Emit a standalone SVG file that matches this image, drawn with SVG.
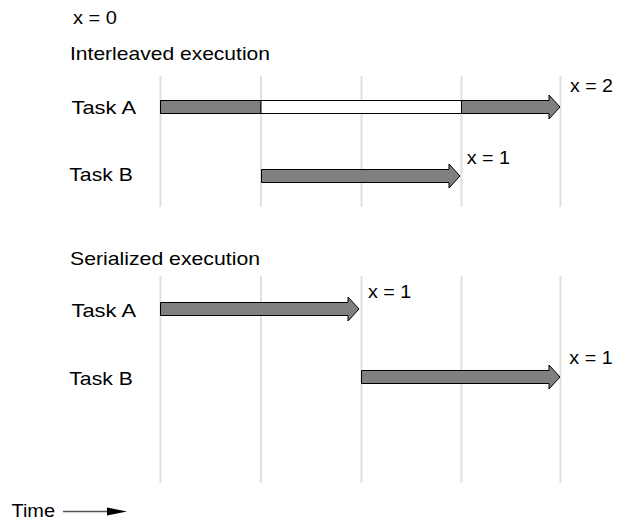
<svg xmlns="http://www.w3.org/2000/svg" width="618" height="520" viewBox="0 0 618 520">
<style>
text{font-family:"Liberation Sans",Arial,sans-serif;font-size:18.5px;fill:#000}
.grid{stroke:#e0e0e0;stroke-width:2}
.bar{fill:#808080;stroke:#000;stroke-width:1}
.idle{fill:#fff;stroke:#000;stroke-width:1}
</style>
<rect width="618" height="520" fill="#fff"/>
<g id="grid">
<line class="grid" x1="160.5" y1="76" x2="160.5" y2="207"/>
<line class="grid" x1="261" y1="76" x2="261" y2="207"/>
<line class="grid" x1="361.5" y1="76" x2="361.5" y2="207"/>
<line class="grid" x1="461.5" y1="76" x2="461.5" y2="207"/>
<line class="grid" x1="560.5" y1="76" x2="560.5" y2="207"/>
<line class="grid" x1="160.5" y1="276" x2="160.5" y2="483"/>
<line class="grid" x1="261" y1="276" x2="261" y2="483"/>
<line class="grid" x1="361.5" y1="276" x2="361.5" y2="483"/>
<line class="grid" x1="461.5" y1="276" x2="461.5" y2="483"/>
<line class="grid" x1="560.5" y1="276" x2="560.5" y2="483"/>
</g>
<g id="labels">
<text x="73" y="24" textLength="44" lengthAdjust="spacingAndGlyphs">x = 0</text>
<text x="70" y="60" textLength="200" lengthAdjust="spacingAndGlyphs">Interleaved execution</text>
<text x="70" y="265" textLength="190" lengthAdjust="spacingAndGlyphs">Serialized execution</text>
<text x="11.5" y="516.5" textLength="43.5" lengthAdjust="spacingAndGlyphs">Time</text>
</g>
<g id="interleaved-task-a">
<text x="71.5" y="114" textLength="64.5" lengthAdjust="spacingAndGlyphs">Task A</text>
<rect class="bar" x="160.5" y="100.5" width="100.5" height="13"/>
<rect class="idle" x="261" y="100.5" width="200.5" height="13"/>
<path class="bar" d="M461.5,100.5 H549 V95 L560,107 L549,119 V113.5 H461.5 Z"/>
<text x="570" y="91.5" textLength="43" lengthAdjust="spacingAndGlyphs">x = 2</text>
</g>
<g id="interleaved-task-b">
<text x="69.3" y="181" textLength="63.5" lengthAdjust="spacingAndGlyphs">Task B</text>
<path class="bar" d="M261.5,169.5 H449 V164 L460,176 L449,188 V182.5 H261.5 Z"/>
<text x="466.7" y="164" textLength="43.3" lengthAdjust="spacingAndGlyphs">x = 1</text>
</g>
<g id="serialized-task-a">
<text x="71.5" y="316.5" textLength="64.5" lengthAdjust="spacingAndGlyphs">Task A</text>
<path class="bar" d="M160.5,302.5 H348 V297 L359,309 L348,321 V315.5 H160.5 Z"/>
<text x="368" y="298" textLength="43.3" lengthAdjust="spacingAndGlyphs">x = 1</text>
</g>
<g id="serialized-task-b">
<text x="69.3" y="385" textLength="63.5" lengthAdjust="spacingAndGlyphs">Task B</text>
<path class="bar" d="M361.5,370.5 H549 V365 L560,377 L549,389 V383.5 H361.5 Z"/>
<text x="569.3" y="364" textLength="43.3" lengthAdjust="spacingAndGlyphs">x = 1</text>
</g>
<g id="connectors">
<line x1="63" y1="511.5" x2="110" y2="511.5" stroke="#555" stroke-width="1.5"/>
<path d="M107,507.5 L127,511.5 L107,515.5 Z" fill="#000"/>
</g>
</svg>
